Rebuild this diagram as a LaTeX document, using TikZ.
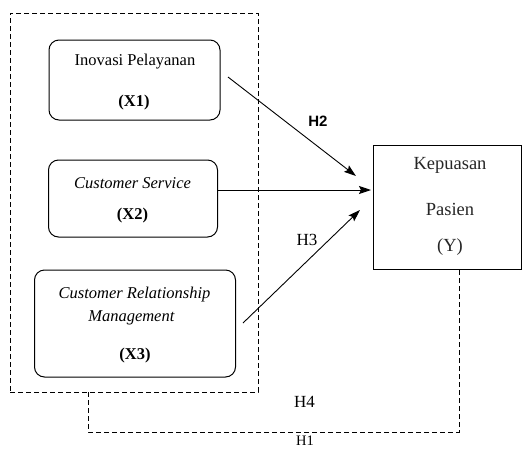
\documentclass[tikz,border=0pt]{standalone}
\usepackage{fontspec}
\setmainfont{Liberation Serif}
\newfontfamily\hsans{Liberation Sans}
\usetikzlibrary{arrows.meta}
\begin{document}
\begin{tikzpicture}[x=1pt,y=-1pt,
  xbox/.style={draw, rounded corners=10pt, line width=1pt, inner sep=0pt},
  ybox/.style={draw, line width=0.9pt, inner sep=0pt},
  dashline/.style={dash pattern=on 5pt off 3pt, line width=1pt},
  arr/.style={-{Stealth[length=12pt,width=8pt,inset=2pt]}, line width=0.9pt},
  txt/.style={font=\fontsize{16.5}{19}\selectfont, inner sep=0pt, anchor=base},
  ytxt/.style={font=\fontsize{18.5}{21}\selectfont, inner sep=0pt, anchor=base, text=black!85},
  hl/.style={font=\fontsize{17}{20}\selectfont, inner sep=0pt, anchor=base},
]
\useasboundingbox (0,0) rectangle (523,448);
% group box
\node[draw, dashline, minimum width=248pt, minimum height=379pt, inner sep=0pt] (grp) at (134,202.5) {};
% X boxes
\node[xbox, minimum width=171pt, minimum height=80pt] (x1) at (134.5,80) {};
\node[xbox, minimum width=169pt, minimum height=77pt] (x2) at (133,198.5) {};
\node[xbox, minimum width=201pt, minimum height=107pt] (x3) at (135,323.5) {};
% Y box
\node[ybox, minimum width=148pt, minimum height=124pt] (y) at (447,207) {};
% texts
\node[txt] (x1a) at (135,65) {Inovasi Pelayanan};
\node[txt] (x1b) at (134,106) {\textbf{(X1)}};
\node[txt] (x2a) at (132.5,188) {\textit{Customer Service}};
\node[txt] (x2b) at (132.5,219) {\textbf{(X2)}};
\node[txt] (x3a) at (134.5,298) {\textit{Customer Relationship}};
\node[txt] (x3b) at (131.5,321) {\textit{Management}};
\node[txt] (x3c) at (135,359) {\textbf{(X3)}};
\node[ytxt] (ya) at (450,169) {Kepuasan};
\node[ytxt] (yb) at (450,215) {Pasien};
\node[ytxt] (yc) at (450,251) {(Y)};
% arrows
\coordinate (a1s) at (228,77);
\coordinate (a1e) at (356,176);
\coordinate (a2e) at (371,190);
\coordinate (a3s) at (243,323);
\coordinate (a3e) at (360,210);
\draw[arr] (a1s) -- (a1e);
\draw[arr] (x2.east |- a2e) -- (a2e);
\draw[arr] (a3s) -- (a3e);
% H1 dashed connector
\coordinate (h1a) at (88,392);
\coordinate (h1c) at (459,432);
\draw[dashline] (h1a) |- (h1c) -- (y.south -| h1c);
% labels
\node[font=\hsans\bfseries\fontsize{15}{18}\selectfont, inner sep=0pt, anchor=base] (h2) at (318,126) {H2};
\node[hl] (h3) at (307,245) {H3};
\node[hl] (h4) at (304.5,407) {H4};
\node[hl, text depth=0pt, font=\fontsize{14.5}{17}\selectfont] (h1) at (305,445.5) {H1};
\end{tikzpicture}
\end{document}
